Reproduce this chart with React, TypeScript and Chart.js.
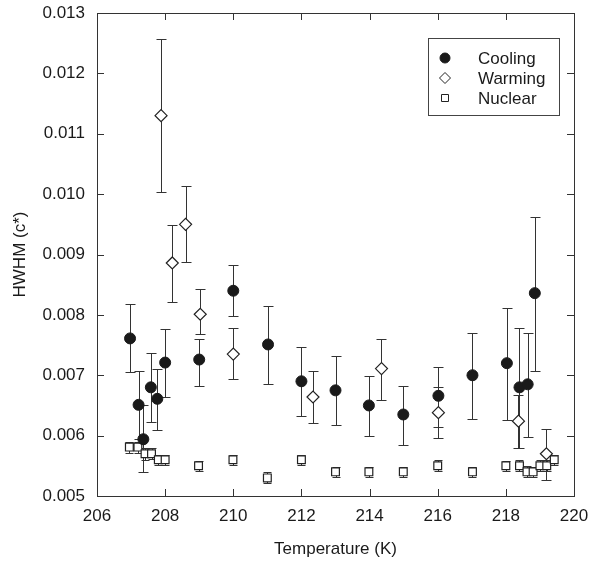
import React, { useEffect, useRef } from 'react';
import { Chart, registerables } from 'chart.js';

Chart.register(...registerables);

const FONT = "'Liberation Sans', Arial, Helvetica, sans-serif";

// ---- data ----
const coolingT = [206.97, 207.22, 207.36, 207.58, 207.77, 208.0, 209.0, 210.0, 211.02, 212.0, 213.0, 213.98, 214.99, 216.02, 217.02, 218.03, 218.4, 218.64, 218.85];
const coolingV = [0.00761, 0.00651, 0.00594, 0.0068, 0.00661, 0.00721, 0.00726, 0.0084, 0.00751, 0.0069, 0.00675, 0.0065, 0.00635, 0.00666, 0.0070, 0.0072, 0.0068, 0.00685, 0.00836];
const coolingHi = [0.00818, 0.00707, 0.0065, 0.00737, 0.0071, 0.00777, 0.0076, 0.00882, 0.00814, 0.00747, 0.00732, 0.00699, 0.00683, 0.00714, 0.0077, 0.00812, 0.00779, 0.0077, 0.00962];
const coolingLo = [0.00705, 0.00595, 0.00539, 0.00623, 0.0061, 0.00664, 0.00683, 0.00798, 0.00685, 0.00633, 0.00618, 0.006, 0.00584, 0.00615, 0.00627, 0.00626, 0.00579, 0.00598, 0.00707];

const warmingT = [207.88, 208.21, 208.6, 209.03, 210.0, 212.34, 214.35, 216.02, 218.37, 219.19];
const warmingV = [0.0113, 0.00886, 0.0095, 0.00801, 0.00735, 0.00664, 0.00711, 0.00638, 0.00624, 0.0057];
const warmingHi = [0.01257, 0.00949, 0.01014, 0.00843, 0.00778, 0.00707, 0.0076, 0.00681, 0.00667, 0.00611];
const warmingLo = [0.01003, 0.00822, 0.00887, 0.00768, 0.00693, 0.00621, 0.00659, 0.00596, 0.00579, 0.00526];

const nuclearT = [206.95, 207.2, 207.41, 207.6, 207.8, 208.0, 208.98, 209.99, 211.0, 212.0, 213.0, 213.98, 214.99, 216.0, 217.02, 218.0, 218.4, 218.62, 218.8, 219.0, 219.2, 219.42];
const nuclearV = [0.00581, 0.00581, 0.0057, 0.0057, 0.0056, 0.0056, 0.0055, 0.0056, 0.0053, 0.0056, 0.0054, 0.0054, 0.0054, 0.0055, 0.0054, 0.0055, 0.0055, 0.0054, 0.0054, 0.0055, 0.0055, 0.0056];
const nuclearErr = [0.00009, 0.00009, 0.0001, 0.00009, 0.00008, 0.00008, 0.00008, 0.00008, 0.00009, 0.00008, 0.00008, 0.00008, 0.00008, 0.00009, 0.00008, 0.00008, 0.00009, 0.00009, 0.00008, 0.00009, 0.00009, 0.00008];

const xTicks = [206, 208, 210, 212, 214, 216, 218, 220];
const yTicks = [0.005, 0.006, 0.007, 0.008, 0.009, 0.01, 0.011, 0.012, 0.013];

const seriesNames = ['Cooling', 'Warming', 'Nuclear'];
const INK = '#1a1a1a';

function pts(t: number[], v: number[], lo: number[], hi: number[]) {
  return t.map((x, i) => ({ x, y: v[i], lo: lo[i], hi: hi[i] }));
}

const errorBarPlugin = {
  id: 'errorBars',
  beforeDatasetsDraw(chart: any) {
    const { ctx } = chart;
    const xs = chart.scales.x;
    const ys = chart.scales.y;
    ctx.save();
    ctx.strokeStyle = '#333';
    ctx.lineWidth = 1;
    chart.data.datasets.forEach((ds: any) => {
      const cap = ds.capHalf;
      ds.data.forEach((p: any) => {
        const px = Math.round(xs.getPixelForValue(p.x)) + 0.5;
        const yl = Math.round(ys.getPixelForValue(p.lo)) + 0.5;
        const yh = Math.round(ys.getPixelForValue(p.hi)) + 0.5;
        ctx.beginPath();
        ctx.moveTo(px, yl);
        ctx.lineTo(px, yh);
        ctx.moveTo(px - cap, yl);
        ctx.lineTo(px + cap, yl);
        ctx.moveTo(px - cap, yh);
        ctx.lineTo(px + cap, yh);
        ctx.stroke();
      });
    });
    ctx.restore();
  },
};

const framePlugin = {
  id: 'frameTicks',
  afterDraw(chart: any) {
    const { ctx, chartArea } = chart;
    const { left, right, top, bottom } = chartArea;
    const xs = chart.scales.x;
    const ys = chart.scales.y;
    ctx.save();
    ctx.strokeStyle = '#333';
    ctx.lineWidth = 1;
    ctx.strokeRect(Math.round(left) + 0.5, Math.round(top) + 0.5, Math.round(right - left), Math.round(bottom - top));
    const L = 7;
    ctx.beginPath();
    xTicks.forEach((v) => {
      const px = Math.round(xs.getPixelForValue(v)) + 0.5;
      ctx.moveTo(px, bottom);
      ctx.lineTo(px, bottom - L);
      ctx.moveTo(px, top);
      ctx.lineTo(px, top + L);
    });
    yTicks.forEach((v) => {
      const py = Math.round(ys.getPixelForValue(v)) + 0.5;
      ctx.moveTo(left, py);
      ctx.lineTo(left + L, py);
      ctx.moveTo(right, py);
      ctx.lineTo(right - L, py);
    });
    ctx.stroke();

    // legend
    const bx = right - 146, by = top + 25, bw = 131, bh = 77;
    ctx.strokeStyle = '#444';
    ctx.strokeRect(Math.round(bx) + 0.5, Math.round(by) + 0.5, bw, bh);
    ctx.font = `17px ${FONT}`;
    ctx.textBaseline = 'middle';
    ctx.textAlign = 'left';
    chart.data.datasets.forEach((ds: any, i: number) => {
      const cy = by + 20 + i * 20;
      const mx = bx + 17;
      ctx.fillStyle = ds.backgroundColor;
      ctx.strokeStyle = ds.borderColor;
      ctx.lineWidth = 1;
      ctx.beginPath();
      if (ds.pointStyle === 'circle') {
        ctx.arc(mx, cy, 5, 0, Math.PI * 2);
        ctx.fill();
        ctx.stroke();
      } else if (ds.pointStyle === 'rectRot') {
        ctx.moveTo(mx, cy - 5.5);
        ctx.lineTo(mx + 5.5, cy);
        ctx.lineTo(mx, cy + 5.5);
        ctx.lineTo(mx - 5.5, cy);
        ctx.closePath();
        ctx.fill();
        ctx.stroke();
      } else {
        ctx.rect(mx - 3.5, cy - 3.5, 7, 7);
        ctx.fill();
        ctx.stroke();
      }
      ctx.fillStyle = INK;
      ctx.fillText(ds.label, bx + 50, cy + 1);
    });
    ctx.restore();
  },
};

export default function App() {
  const ref = useRef<HTMLCanvasElement | null>(null);

  useEffect(() => {
    if (!ref.current) return;
    const chart = new Chart(ref.current, {
      type: 'scatter',
      data: {
        datasets: [
          {
            label: seriesNames[0],
            data: pts(coolingT, coolingV, coolingLo, coolingHi),
            pointStyle: 'circle',
            pointRadius: 5.5,
            backgroundColor: INK,
            borderColor: INK,
            borderWidth: 1,
            capHalf: 5,
          } as any,
          {
            label: seriesNames[1],
            data: pts(warmingT, warmingV, warmingLo, warmingHi),
            pointStyle: 'rectRot',
            pointRadius: 6,
            backgroundColor: '#ffffff',
            borderColor: '#222',
            borderWidth: 1.2,
            capHalf: 5,
          } as any,
          {
            label: seriesNames[2],
            data: pts(
              nuclearT,
              nuclearV,
              nuclearV.map((v, i) => v - nuclearErr[i]),
              nuclearV.map((v, i) => v + nuclearErr[i])
            ),
            pointStyle: 'rect',
            pointRadius: 5.5,
            backgroundColor: '#ffffff',
            borderColor: '#222',
            borderWidth: 1.2,
            capHalf: 4,
          } as any,
        ],
      },
      options: {
        animation: false,
        responsive: true,
        maintainAspectRatio: false,
        layout: { padding: { left: 0, right: 17, top: 13, bottom: 0 } },
        plugins: {
          legend: { display: false },
          tooltip: { enabled: false },
        },
        scales: {
          x: {
            type: 'linear',
            min: 206,
            max: 220,
            afterFit: (s: any) => {
              s.height = 68;
              s.paddingLeft = 0;
              s.paddingRight = 0;
            },
            afterBuildTicks: (s: any) => {
              s.ticks = xTicks.map((v) => ({ value: v }));
            },
            grid: { display: false, drawTicks: false },
            border: { display: false },
            ticks: {
              padding: 10,
              color: INK,
              font: { family: FONT, size: 17 },
              callback: (v: any) => String(v),
              maxRotation: 0,
            },
            title: {
              display: true,
              text: 'Temperature (K)',
              color: INK,
              font: { family: FONT, size: 17 },
              padding: { top: 0, bottom: 4 },
            },
          },
          y: {
            type: 'linear',
            min: 0.005,
            max: 0.013,
            afterFit: (s: any) => {
              s.width = 97;
              s.paddingTop = 0;
              s.paddingBottom = 0;
            },
            afterBuildTicks: (s: any) => {
              s.ticks = yTicks.map((v) => ({ value: v }));
            },
            grid: { display: false, drawTicks: false },
            border: { display: false },
            ticks: {
              padding: 12,
              color: INK,
              font: { family: FONT, size: 17 },
              callback: (v: any) => Number(v).toFixed(3),
            },
            title: {
              display: true,
              text: 'HWHM (c*)',
              color: INK,
              font: { family: FONT, size: 17 },
              padding: { top: 10, bottom: 0 },
            },
          },
        },
      },
      plugins: [errorBarPlugin, framePlugin],
    } as any);
    return () => chart.destroy();
  }, []);

  return (
    <div style={{ position: 'fixed', left: 0, top: 0, width: 591, height: 564, background: '#fff' }}>
      <canvas ref={ref} />
    </div>
  );
}
